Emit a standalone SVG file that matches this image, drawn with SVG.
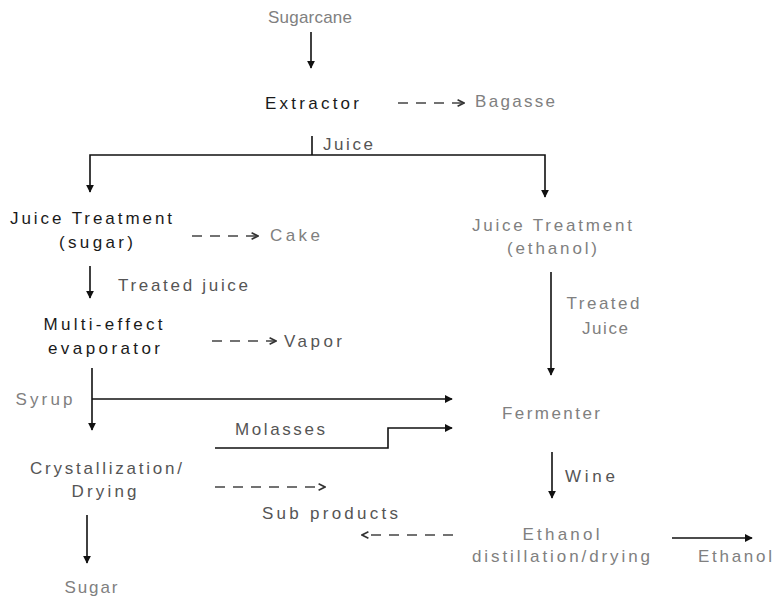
<svg xmlns="http://www.w3.org/2000/svg" width="772" height="599" viewBox="0 0 772 599">
<style>
text{font-family:"Liberation Sans",Arial,sans-serif;font-size:17px;text-anchor:middle}
.d{fill:#1a1a1a}
.l{fill:#808080}
.m{fill:#555}
.ln{stroke:#111;stroke-width:1.6;fill:none}
.ds{stroke:#444;stroke-width:1.5;fill:none;stroke-dasharray:10 8}
</style>
<defs>
<marker id="ah" viewBox="0 0 10 10" refX="9" refY="5" markerWidth="8" markerHeight="8" orient="auto" markerUnits="userSpaceOnUse">
<path d="M0,0 L10,5 L0,10 Z" fill="#111"/>
</marker>
<marker id="oh" viewBox="0 0 10 10" refX="9" refY="5" markerWidth="8" markerHeight="8" orient="auto" markerUnits="userSpaceOnUse">
<path d="M1,1 L9,5 L1,9" fill="none" stroke="#333" stroke-width="2"/>
</marker>
</defs>
<g id="connectors">
<line class="ln" x1="311" y1="32" x2="311" y2="68" marker-end="url(#ah)"/>
<line class="ds" x1="398" y1="103" x2="464" y2="103" marker-end="url(#oh)"/>
<path class="ln" d="M312,136 V155"/>
<path class="ln" d="M312,155 H90 V192" marker-end="url(#ah)"/>
<path class="ln" d="M312,155 H545 V197" marker-end="url(#ah)"/>
<line class="ds" x1="192" y1="236" x2="258" y2="236" marker-end="url(#oh)"/>
<line class="ln" x1="90" y1="266" x2="90" y2="298" marker-end="url(#ah)"/>
<line class="ds" x1="212" y1="341" x2="276" y2="341" marker-end="url(#oh)"/>
<line class="ln" x1="551" y1="272" x2="551" y2="375" marker-end="url(#ah)"/>
<line class="ln" x1="92" y1="368" x2="92" y2="430" marker-end="url(#ah)"/>
<path class="ln" d="M92,399 H452" marker-end="url(#ah)"/>
<path class="ln" d="M215,448 H388 V428 H452" marker-end="url(#ah)"/>
<line class="ds" x1="215" y1="487" x2="325" y2="487" marker-end="url(#oh)"/>
<line class="ln" x1="552" y1="452" x2="552" y2="498" marker-end="url(#ah)"/>
<line class="ds" x1="453" y1="535" x2="362" y2="535" marker-end="url(#oh)"/>
<line class="ln" x1="672" y1="538" x2="752" y2="538" marker-end="url(#ah)"/>
<line class="ln" x1="87" y1="515" x2="87" y2="563" marker-end="url(#ah)"/>
</g>
<g id="sugarcane"><text class="l" x="310" y="23" textLength="84" lengthAdjust="spacing">Sugarcane</text></g>
<g id="extractor"><text class="d" x="312" y="109" textLength="94" lengthAdjust="spacing">Extractor</text></g>
<g id="bagasse"><text class="l" x="515" y="107" textLength="80" lengthAdjust="spacing">Bagasse</text></g>
<g id="juice-label"><text class="m" x="348" y="150" textLength="50" lengthAdjust="spacing">Juice</text></g>
<g id="juice-treatment-sugar">
<text class="d" x="91" y="224" textLength="162" lengthAdjust="spacing">Juice Treatment</text>
<text class="d" x="96" y="248" textLength="74" lengthAdjust="spacing">(sugar)</text>
</g>
<g id="cake"><text class="l" x="295" y="241" textLength="50" lengthAdjust="spacing">Cake</text></g>
<g id="juice-treatment-ethanol">
<text class="l" x="552" y="231" textLength="160" lengthAdjust="spacing">Juice Treatment</text>
<text class="l" x="552" y="254" textLength="90" lengthAdjust="spacing">(ethanol)</text>
</g>
<g id="treated-juice-label"><text class="m" x="183" y="291" textLength="130" lengthAdjust="spacing">Treated juice</text></g>
<g id="treated-juice-label2">
<text class="l" x="603" y="309" textLength="73" lengthAdjust="spacing">Treated</text>
<text class="l" x="605" y="334" textLength="46" lengthAdjust="spacing">Juice</text>
</g>
<g id="evaporator">
<text class="d" x="103" y="330" textLength="119" lengthAdjust="spacing">Multi-effect</text>
<text class="d" x="104" y="354" textLength="112" lengthAdjust="spacing">evaporator</text>
</g>
<g id="vapor"><text class="m" x="313" y="347" textLength="58" lengthAdjust="spacing">Vapor</text></g>
<g id="syrup-label"><text class="l" x="44" y="405" textLength="57" lengthAdjust="spacing">Syrup</text></g>
<g id="fermenter"><text class="l" x="551" y="419" textLength="98" lengthAdjust="spacing">Fermenter</text></g>
<g id="molasses-label"><text class="m" x="280" y="435" textLength="90" lengthAdjust="spacing">Molasses</text></g>
<g id="crystallization">
<text class="m" x="106" y="474" textLength="152" lengthAdjust="spacing">Crystallization/</text>
<text class="m" x="104" y="497" textLength="65" lengthAdjust="spacing">Drying</text>
</g>
<g id="wine-label"><text class="m" x="590" y="482" textLength="50" lengthAdjust="spacing">Wine</text></g>
<g id="sub-products"><text class="m" x="330" y="519" textLength="136" lengthAdjust="spacing">Sub products</text></g>
<g id="ethanol-distillation">
<text class="l" x="561" y="540" textLength="77" lengthAdjust="spacing">Ethanol</text>
<text class="l" x="561" y="562" textLength="178" lengthAdjust="spacing">distillation/drying</text>
</g>
<g id="ethanol"><text class="l" x="735" y="562" textLength="74" lengthAdjust="spacing">Ethanol</text></g>
<g id="sugar"><text class="l" x="91" y="593" textLength="53" lengthAdjust="spacing">Sugar</text></g>
</svg>
